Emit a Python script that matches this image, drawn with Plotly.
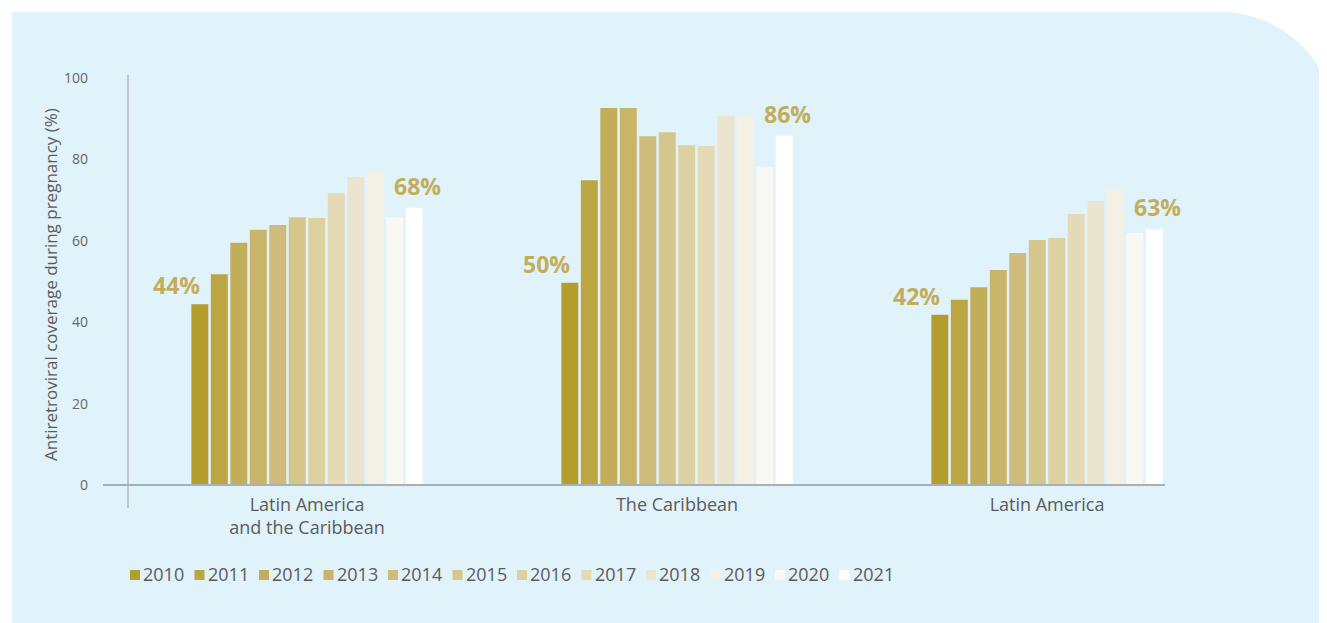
import plotly.graph_objects as go

# ---------------- data ----------------
regions = ["Latin America<br>and the Caribbean", "The Caribbean", "Latin America"]
years = ["2010", "2011", "2012", "2013", "2014", "2015", "2016", "2017", "2018", "2019", "2020", "2021"]
lac = [44.4, 51.8, 59.5, 62.7, 63.9, 65.8, 65.6, 71.7, 75.7, 77.1, 65.8, 68.1]
caribbean = [49.7, 74.9, 92.6, 92.6, 85.7, 86.7, 83.5, 83.3, 90.7, 90.7, 78.1, 85.8]
latin_america = [41.8, 45.5, 48.6, 52.8, 57.0, 60.2, 60.7, 66.6, 69.8, 72.7, 61.9, 62.8]
y_ticks = [0, 20, 40, 60, 80, 100]

colors = ["#B39E2D", "#BCA543", "#C2AD58", "#C9B56A", "#CFBC7A", "#D5C68C",
          "#DDD1A2", "#E4DBB6", "#EBE5CF", "#F4F1E4", "#F9F8F2", "#FFFFFF"]

# ---------------- layout geometry (pixels) ----------------
OFF = 8                      # default page body margin
W, H = 1327 - OFF, 623 - OFF
L, R, T, B = 120, 162, 70, 138
PW, PH = W - L - R, H - T - B
xr = [-0.4838, 2.3189]
bargap = 0.368
bargroupgap = 0.13


def px(x):
    """page x pixel -> paper fraction"""
    return (x - OFF - L) / PW


def py(y):
    """page y pixel -> paper fraction"""
    return (H - B - (y - OFF)) / PH


font_main = "Open Sans"
txt_color = "#5b5b5b"
label_color = "#C3AD5B"

fig = go.Figure()
series = list(zip(lac, caribbean, latin_america))
for i, yr in enumerate(years):
    fig.add_trace(go.Bar(
        x=[0, 1, 2], y=list(series[i]), name=yr,
        marker=dict(color=colors[i], line=dict(width=0)),
        hoverinfo="y+name", showlegend=False,
    ))

# percentage annotations at first and last bar of each group
n = len(years)
slot = (1 - bargap) / n
for g, vals in enumerate([lac, caribbean, latin_america]):
    first_x = g + (0 - (n - 1) / 2) * slot
    last_x = g + ((n - 1) - (n - 1) / 2) * slot
    fig.add_annotation(x=first_x, y=vals[0], text=f"{round(vals[0])}%", showarrow=False,
                       xshift=-23, yshift=19,
                       font=dict(family=font_main, size=23, color=label_color, weight="bold"))
    fig.add_annotation(x=last_x, y=vals[-1], text=f"{round(vals[-1])}%", showarrow=False,
                       xshift=3, yshift=22,
                       font=dict(family=font_main, size=23, color=label_color, weight="bold"))

# y-axis title as rotated annotation
fig.add_annotation(x=px(50), y=py(285), xref="paper", yref="paper",
                   xanchor="center", yanchor="middle",
                   text="Antiretroviral coverage during pregnancy (%)", textangle=-90,
                   showarrow=False, font=dict(family=font_main, size=17, color=txt_color))

# background panel with rounded top-right corner
r = 116
x0, y0 = 12, 12
xc = 1220
k = 0.5523 * r
path = (f"M {px(x0)},{py(y0)} L {px(xc)},{py(y0)} "
        f"C {px(xc + k)},{py(y0)} {px(xc + r)},{py(y0 + r - k)} {px(xc + r)},{py(y0 + r)} "
        f"L {px(xc + r)},{py(640)} L {px(x0)},{py(640)} Z")
shapes = [
    dict(type="path", path=path, xref="paper", yref="paper",
         fillcolor="#E0F2FA", line=dict(width=0), layer="below"),
    dict(type="line", xref="paper", yref="paper", x0=0, x1=0, y0=py(508), y1=py(75),
         line=dict(color="#9a9a9a", width=1), layer="above"),
    dict(type="line", xref="paper", yref="paper", x0=px(103), x1=1, y0=0, y1=0,
         line=dict(color="#A9B0B4", width=2), layer="above"),
]

# legend: colour keys + year labels laid out in one row
leg_x0, leg_step, leg_y, sq = 130, 64.5, 574, 10
for i, yr in enumerate(years):
    lx = leg_x0 + i * leg_step
    shapes.append(dict(type="rect", xref="paper", yref="paper",
                       x0=px(lx), x1=px(lx + sq), y0=py(leg_y + sq / 2 + 1), y1=py(leg_y - sq / 2 + 1),
                       fillcolor=colors[i], line=dict(width=0), layer="above"))
    fig.add_annotation(x=px(lx + sq + 1), y=py(leg_y), xref="paper", yref="paper",
                       xanchor="left", yanchor="middle", text=yr, showarrow=False,
                       font=dict(family=font_main, size=18, color=txt_color))

fig.update_layout(
    width=W, height=H,
    margin=dict(l=L, r=R, t=T, b=B, autoexpand=False),
    paper_bgcolor="white", plot_bgcolor="rgba(0,0,0,0)",
    barmode="group", bargap=bargap, bargroupgap=bargroupgap,
    shapes=shapes,
    showlegend=False,
    xaxis=dict(range=xr, tickmode="array", tickvals=[0, 1, 2], ticktext=regions,
               showgrid=False, zeroline=False, showline=False, ticks="",
               ticklabelstandoff=7,
               tickfont=dict(family=font_main, size=18, color=txt_color), fixedrange=True),
    yaxis=dict(range=[0, 100], tickmode="array", tickvals=y_ticks,
               showgrid=False, zeroline=False, showline=False, ticks="",
               ticklabelstandoff=39,
               tickfont=dict(family=font_main, size=14, color="#666666"), fixedrange=True),
)

fig.write_html("out.html")
